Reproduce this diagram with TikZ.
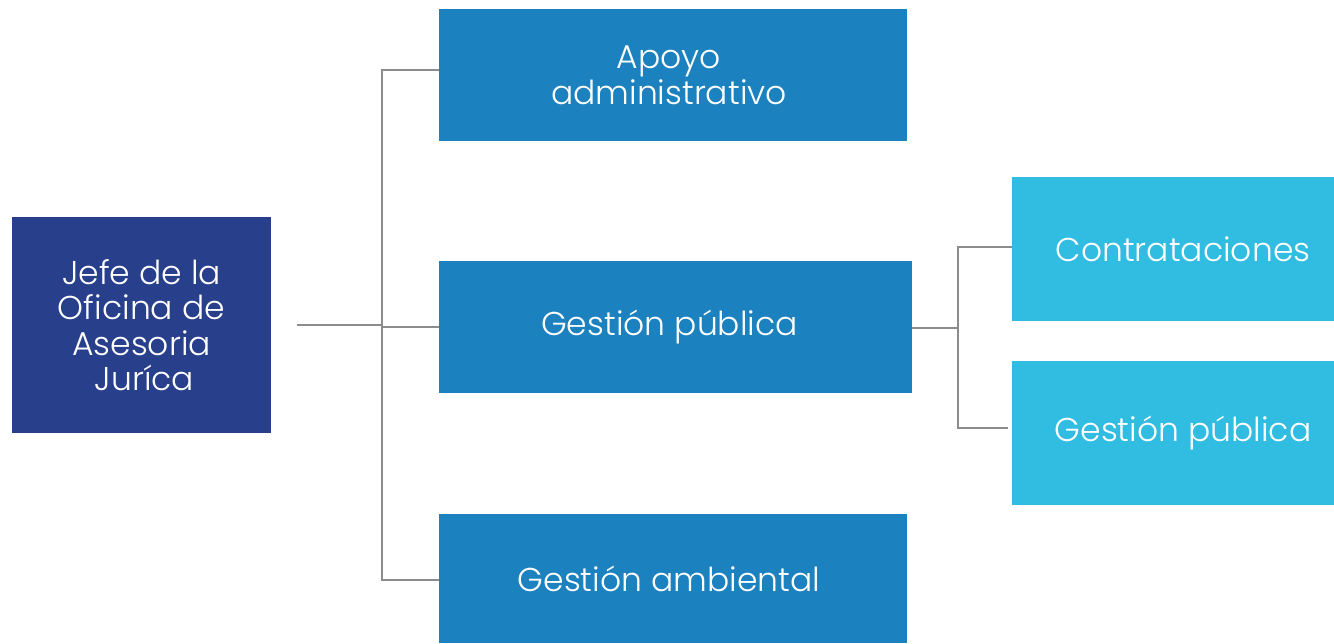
\documentclass[tikz,border=0pt]{standalone}
\usepackage{fontspec}
\setmainfont{Poppins Light}
\begin{document}
\begin{tikzpicture}[x=1pt,y=-1pt,
  box/.style={rectangle, inner sep=0pt, text=white, align=center, font=\fontsize{33}{35.5}\selectfont},
  conn/.style={draw=linegray, line width=1.6pt}]
\definecolor{dark}{HTML}{283F8C}
\definecolor{mid}{HTML}{1C81BF}
\definecolor{light}{HTML}{31BCE1}
\definecolor{linegray}{HTML}{8C8C8C}
\useasboundingbox (0,0) rectangle (1334,643);
\node[box, fill=dark, minimum width=259pt, minimum height=216pt] (jefe) at (141.5,325) {Jefe de la\\Oficina de\\Asesoria\\\hspace*{6pt}Juríca};
\node[box, fill=mid, minimum width=468pt, minimum height=132pt] (apoyo) at (673,75) {\hspace*{-8pt}Apoyo\\\hspace*{-8pt}administrativo};
\node[box, fill=mid, minimum width=473pt, minimum height=132pt] (gp) at (675.5,327) {\hspace*{-12pt}Gestión pública};
\node[box, fill=mid, minimum width=468pt, minimum height=129pt] (amb) at (673,578.5) {\hspace*{-8pt}Gestión ambiental};
\node[box, fill=light, minimum width=322pt, minimum height=144pt] (cont) at (1173,249) {\hspace*{20pt}Contrataciones};
\node[box, fill=light, minimum width=322pt, minimum height=144pt] (gp2) at (1173,433) {\hspace*{20pt}\raisebox{-3pt}{Gestión pública}};
\coordinate (start) at (297,325);
\coordinate (bus) at (382,325);
\coordinate (bus2) at (958,328);
\draw[conn] (start) -- (bus) -- (bus |- gp.west) -- (gp.west);
\draw[conn] (apoyo.west |- 0,70) -- (bus |- 0,70) -- (bus |- 0,580) -- (amb.west |- 0,580);
\draw[conn] (gp.east |- bus2) -- (bus2);
\draw[conn] (cont.west |- 0,247) -- (bus2 |- 0,247) -- (bus2 |- 0,428) -- (1008,428);
\end{tikzpicture}
\end{document}
